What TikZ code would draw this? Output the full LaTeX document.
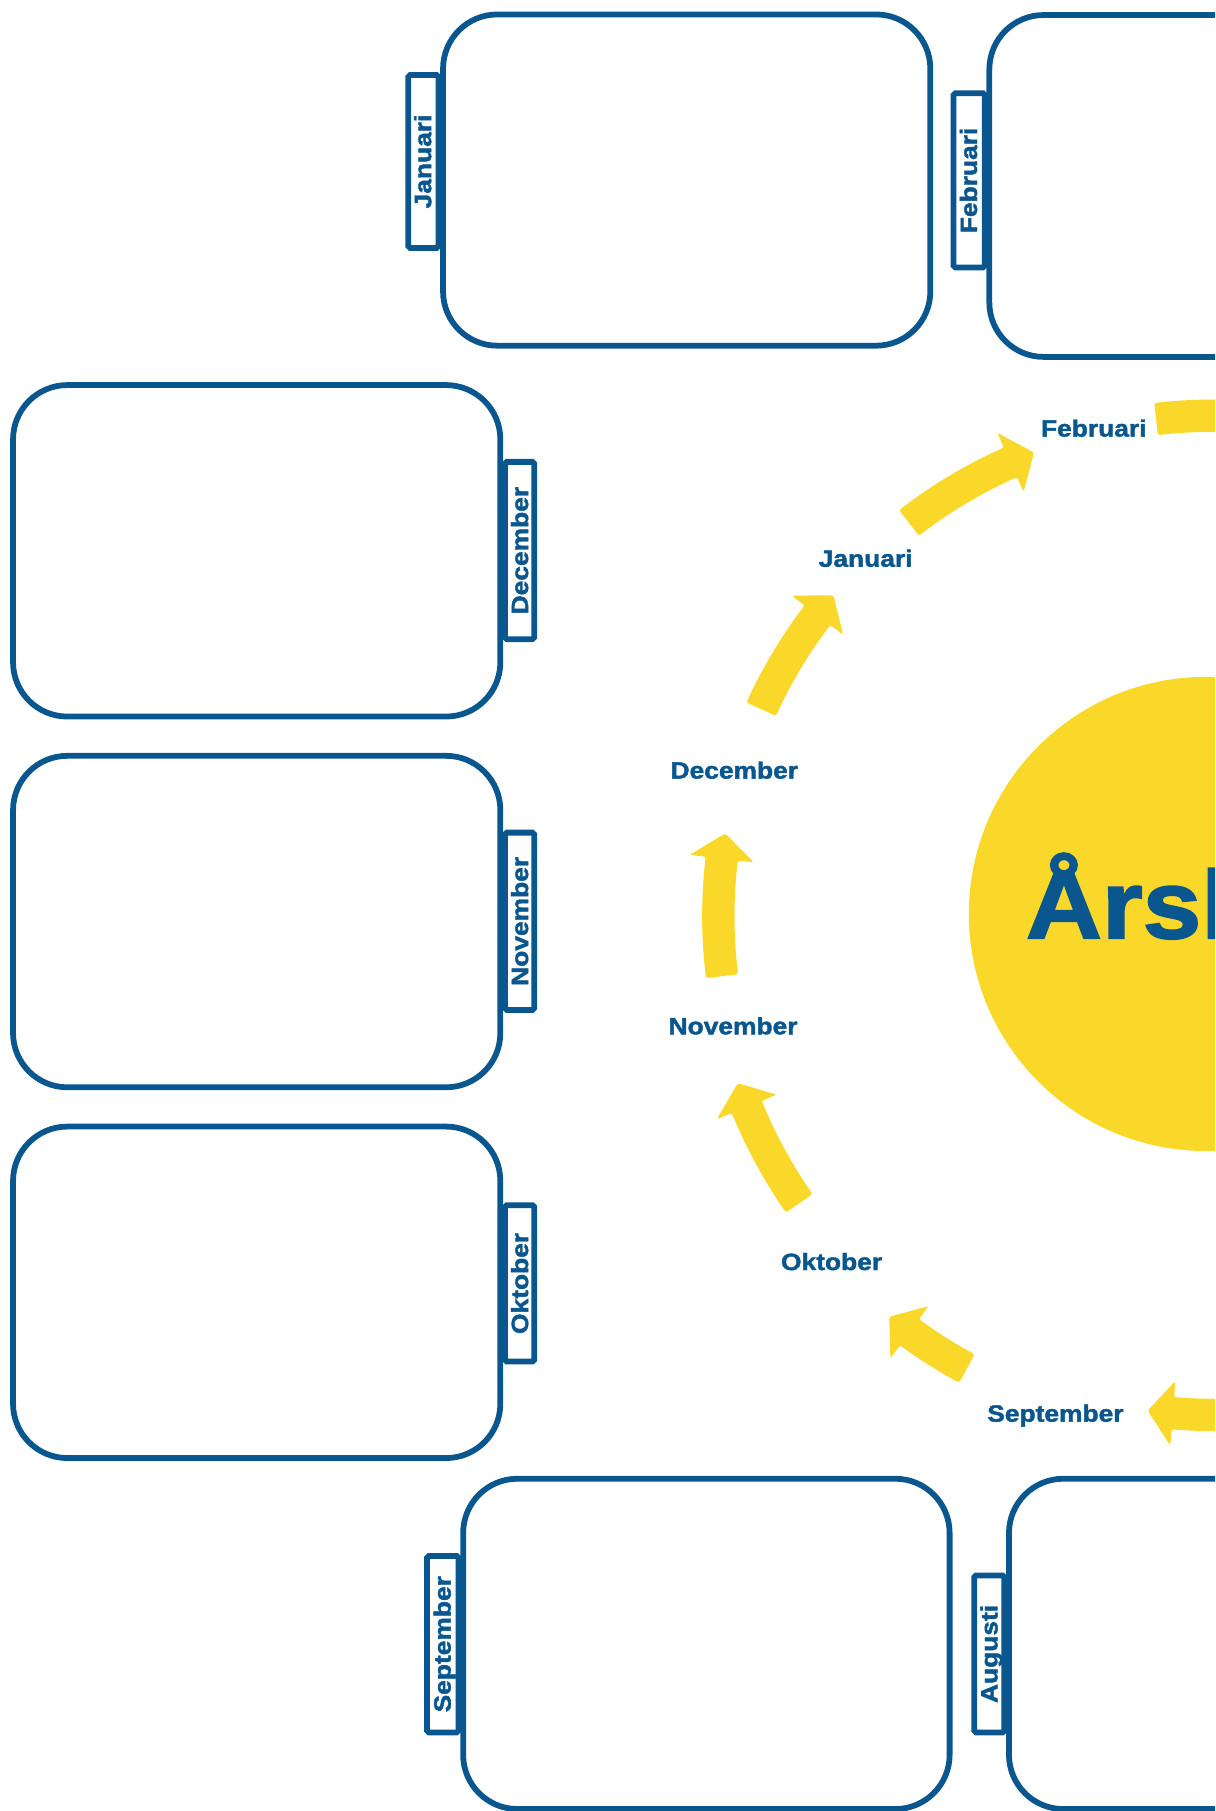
\documentclass[tikz,border=0pt]{standalone}
\usepackage{fontspec}
\newfontfamily\labfont{Liberation Sans}[FakeStretch=1.12,FakeBold=1.8]
\newfontfamily\titlefont{Liberation Sans}[FakeStretch=1.09,FakeBold=2]
\definecolor{myblue}{RGB}{10,86,143}
\definecolor{myyellow}{RGB}{250,216,42}
\newcommand\ringarrow[3]{%
  \pgfmathsetmacro\nk{#2+22/#3*180/pi}%
  \pgfmathsetmacro\ro{#3+14}\pgfmathsetmacro\ri{#3-14}%
  \pgfmathsetmacro\wo{#3+28}\pgfmathsetmacro\wi{#3-28}%
  \fill[myyellow, rounded corners=0.05cm] (#1:\ro) arc[start angle=#1, end angle=\nk, radius=\ro]
    -- (\nk:\wo) -- (#2:#3) -- (\nk:\wi) -- (\nk:\ri)
    arc[start angle=\nk, end angle=#1, radius=\ri] -- cycle;}
\begin{document}
\begin{tikzpicture}[x=0.025cm,y=0.025cm,
  boxline/.style={draw=myblue, line width=0.125cm, fill=white, rounded corners=1.175cm},
  tabrect/.style={draw=myblue, line width=0.125cm, fill=white, rounded corners=0.04cm},
  tablabel/.style={font={\labfont\bfseries\fontsize{14.5}{17}\selectfont}, text=myblue, rotate=90, anchor=base, inner sep=0pt},
  ringlabel/.style={font={\labfont\bfseries\fontsize{14.5}{17}\selectfont}, text=myblue, anchor=base, inner sep=0pt}]
\useasboundingbox (0,0) rectangle (1052,-1568);
\clip (0,0) rectangle (1052,-1568);

% central disc and title
\node (hub) [circle, fill=myyellow, inner sep=0pt, minimum size=10.26cm] at (1044.1,-791.3) {};
\node (title) [anchor=base west, inner sep=0pt, text=myblue, font={\titlefont\bfseries\fontsize{59.4}{70}\selectfont}] at (888,-812.3) {Årshjul};

% ring of arrows
\begin{scope}[shift={(1050,-793)}]
  \fill[myyellow, rounded corners=0.05cm] (96.5:447) arc[start angle=96.5, end angle=70, radius=447]
     -- (70:419) arc[start angle=70, end angle=96.5, radius=419] -- cycle;
  \ringarrow{127.7}{111.1}{430}
  \ringarrow{155.4}{139.8}{430}
  \ringarrow{187}{170.4}{428}
  \ringarrow{214.8}{199.4}{436}
  \ringarrow{241.5}{231.1}{446}
  \ringarrow{290}{262.5}{432}
\end{scope}

% ring labels
\node (rfeb) [ringlabel] at (947,-378) {Februari};
\node (rjan) [ringlabel] at (749.5,-490.7) {Januari};
\node (rdec) [ringlabel] at (635.8,-674.1) {December};
\node (rnov) [ringlabel] at (634.7,-895.5) {November};
\node (rokt) [ringlabel] at (720,-1099.6) {Oktober};
\node (rsep) [ringlabel] at (913.8,-1230.9) {September};

% tabs
\draw[tabrect] (353.5,-64.9) rectangle (379.6,-214.7);
\draw[tabrect] (825.6,-80.7) rectangle (852.6,-231.6);
\draw[tabrect] (437.2,-399.9) rectangle (462.6,-553.4);
\draw[tabrect] (437.2,-720.9) rectangle (462.6,-874.4);
\draw[tabrect] (437.2,-1043.5) rectangle (462.6,-1178.8);
\draw[tabrect] (369.7,-1347.2) rectangle (397,-1500);
\draw[tabrect] (843.5,-1364) rectangle (869.6,-1500);

% boxes
\draw[boxline] (383.6,-12.5) rectangle (805.5,-299.3);
\draw[boxline] (856.6,-13) rectangle (1300,-309);
\draw[boxline] (11.3,-333.4) rectangle (433.2,-620.4);
\draw[boxline] (11.3,-654.4) rectangle (433.2,-941.4);
\draw[boxline] (11.3,-975.4) rectangle (433.2,-1262.4);
\draw[boxline] (401,-1280.3) rectangle (822.2,-1566.3);
\draw[boxline] (873.6,-1280.3) rectangle (1300,-1566.3);

% tab labels
\node (tjan) [tablabel] at (373.3,-139.8) {Januari};
\node (tfeb) [tablabel] at (845.9,-156.2) {Februari};
\node (tdec) [tablabel] at (457.2,-476.7) {December};
\node (tnov) [tablabel] at (457.2,-797.7) {November};
\node (tokt) [tablabel] at (457.2,-1111.2) {Oktober};
\node (tsep) [tablabel] at (390.2,-1423.6) {September};
\node (taug) [tablabel] at (863.6,-1432) {Augusti};
\end{tikzpicture}
\end{document}
